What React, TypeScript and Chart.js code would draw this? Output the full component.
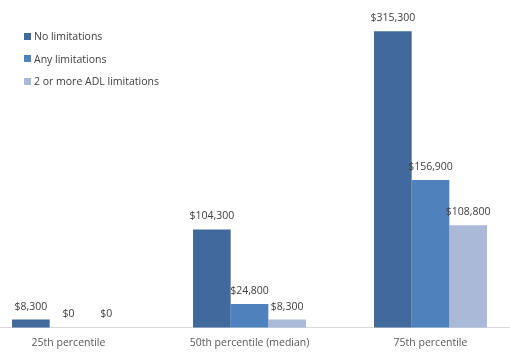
import React, { useEffect, useRef } from "react";
import { Chart, registerables } from "chart.js";

Chart.register(...registerables);

const categories = ["25th percentile", "50th percentile (median)", "75th percentile"];
const seriesNames = ["No limitations", "Any limitations", "2 or more ADL limitations"];
const noLimitations = [8300, 104300, 315300];
const anyLimitations = [0, 24800, 156900];
const adlLimitations = [0, 8300, 108800];
const seriesColors = ["#41699B", "#4F81BD", "#AAB9D8"];

const FONT = "'Open Sans', 'Noto Sans', sans-serif";

const fmt = (v: number) => "$" + v.toLocaleString("en-US");

const dataLabelPlugin = {
  id: "dataLabels",
  afterDatasetsDraw(chart: any) {
    const ctx = chart.ctx;
    ctx.save();
    ctx.font = `10.5px ${FONT}`;
    ctx.fillStyle = "#404040";
    ctx.textAlign = "center";
    ctx.textBaseline = "middle";
    chart.data.datasets.forEach((ds: any, i: number) => {
      const meta = chart.getDatasetMeta(i);
      meta.data.forEach((el: any, j: number) => {
        ctx.fillText(fmt(ds.data[j]), el.x, el.y - 13);
      });
    });
    ctx.restore();
  },
};

export default function App() {
  const ref = useRef<HTMLCanvasElement>(null);
  useEffect(() => {
    if (!ref.current) return;
    const chart = new Chart(ref.current, {
      type: "bar",
      data: {
        labels: categories,
        datasets: [noLimitations, anyLimitations, adlLimitations].map((d, i) => ({
          label: seriesNames[i],
          data: d,
          backgroundColor: seriesColors[i],
          borderWidth: 0,
          barPercentage: 1,
          categoryPercentage: 0.624,
          clip: false as any,
        })),
      },
      options: {
        animation: false,
        responsive: true,
        maintainAspectRatio: false,
        layout: { padding: { top: 8, bottom: 4, left: 0, right: 0 } },
        plugins: { legend: { display: false }, tooltip: { enabled: false } },
        scales: {
          x: {
            grid: { display: false, drawTicks: false },
            border: { display: true, color: "#D9D9D9", width: 1 },
            ticks: { color: "#595959", font: { family: FONT, size: 10.5 }, padding: 9, maxRotation: 0 },
          },
          y: { display: false, min: 0, max: 340000 },
        },
      },
      plugins: [dataLabelPlugin],
    });
    return () => chart.destroy();
  }, []);

  return (
    <div style={{ position: "fixed", left: 0, top: 0, width: 510, height: 362, overflow: "hidden", background: "#fff" }}>
      <div style={{ position: "absolute", left: -22, top: 0, width: 543, height: 362 }}>
        <canvas ref={ref} />
      </div>
      {seriesNames.map((name, i) => (
        <div
          key={name}
          style={{
            position: "absolute",
            left: 24,
            top: 28 + i * 22.5,
            height: 16,
            display: "flex",
            alignItems: "center",
            fontFamily: FONT,
            fontSize: 10.5,
            color: "#404040",
            whiteSpace: "nowrap",
          }}
        >
          <span style={{ display: "inline-block", width: 7, height: 7, background: seriesColors[i], marginRight: 3 }} />
          {name}
        </div>
      ))}
    </div>
  );
}
